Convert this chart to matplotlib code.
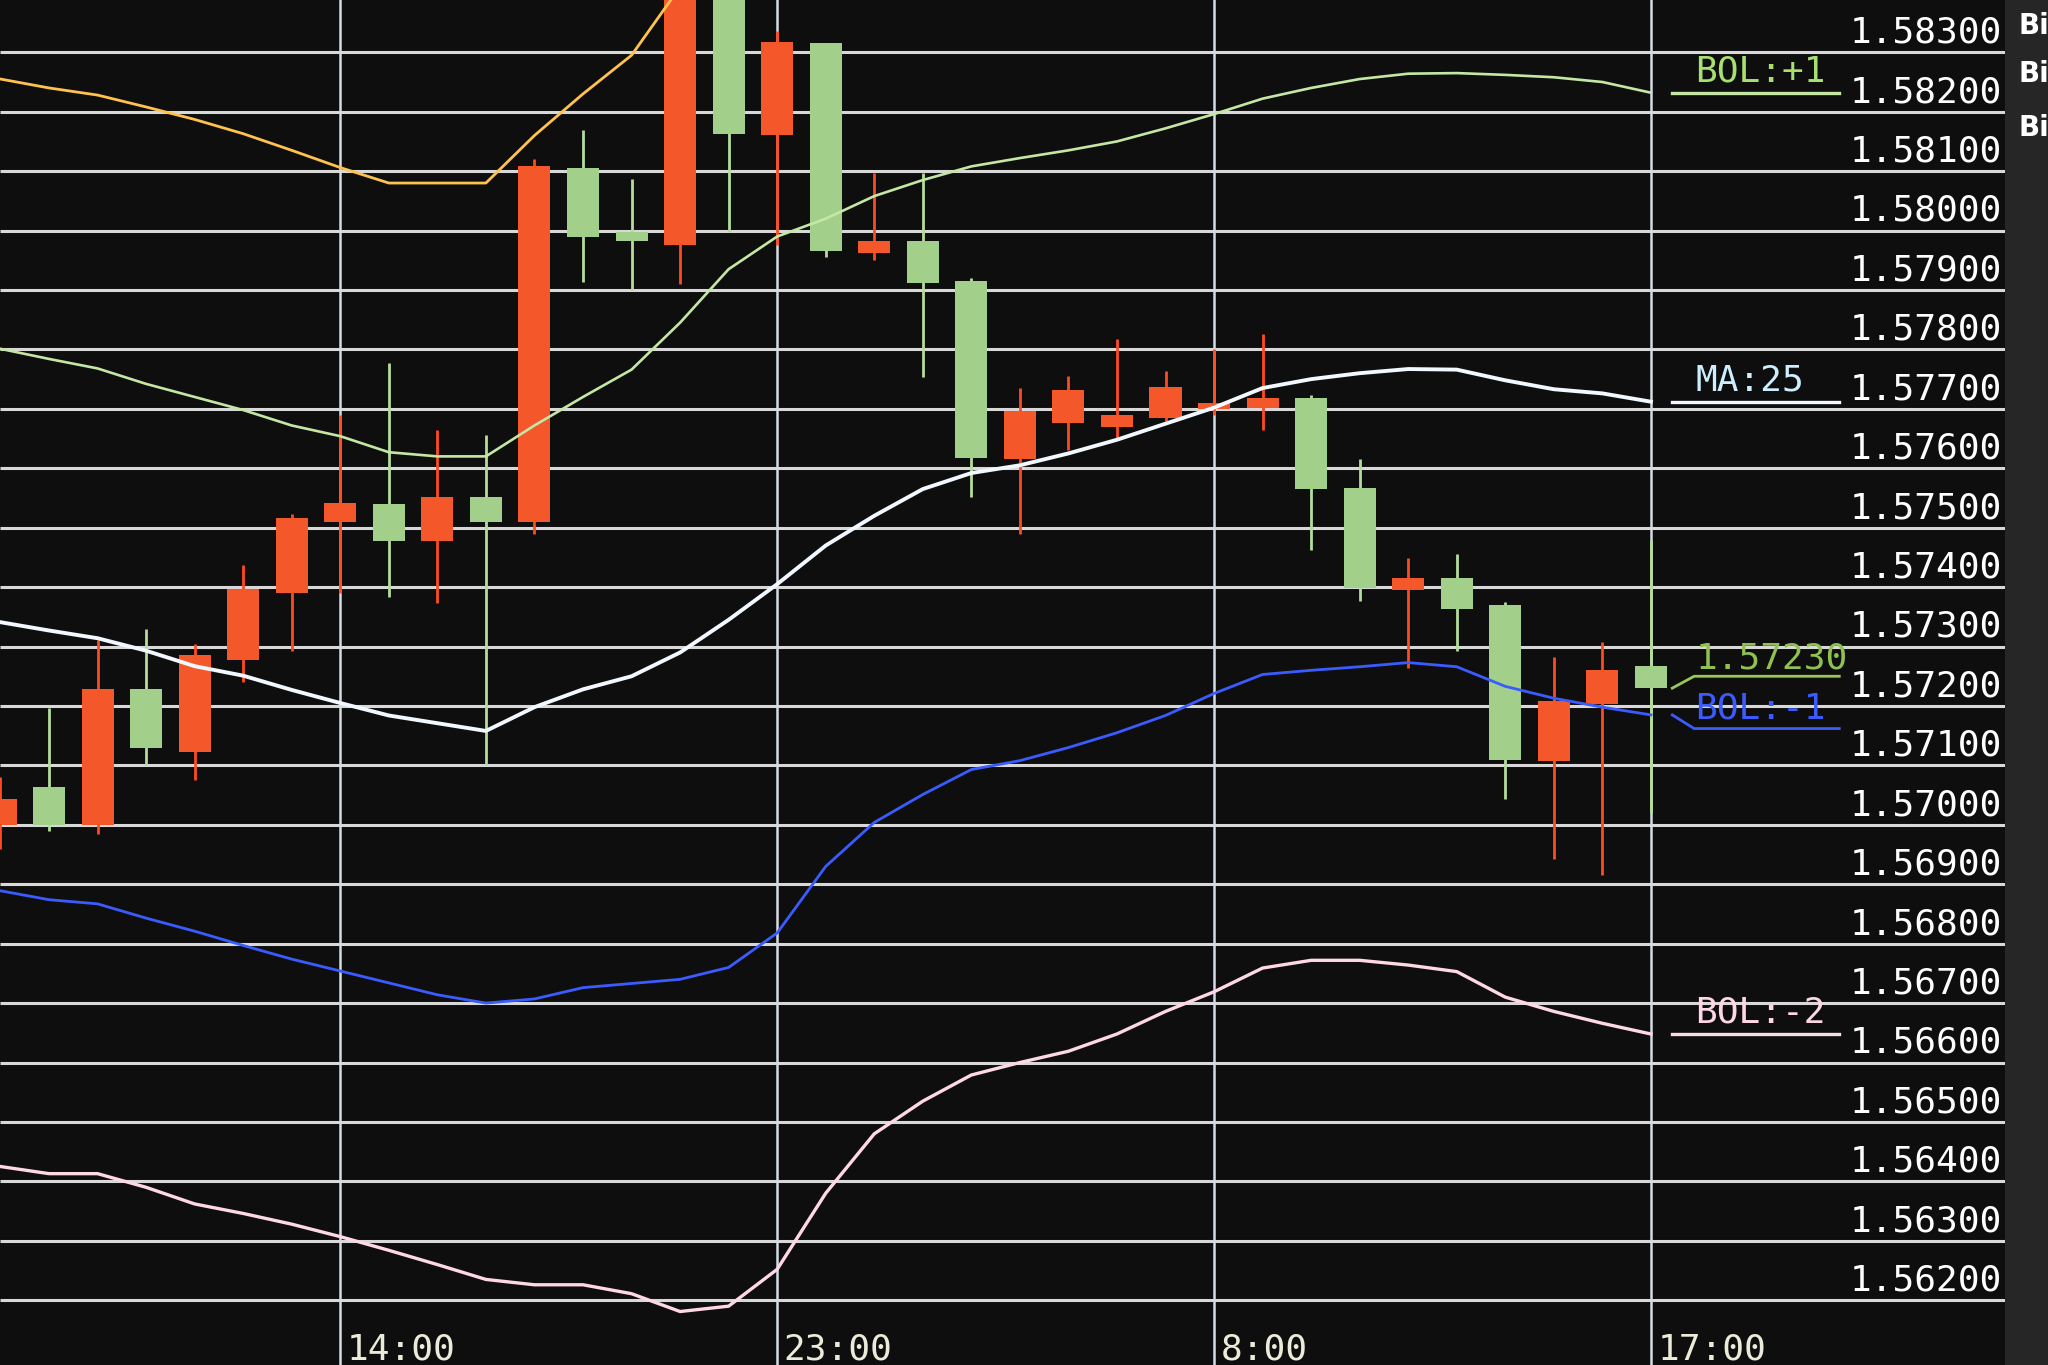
import matplotlib
matplotlib.use("Agg")
import matplotlib.pyplot as plt
from matplotlib.patches import Rectangle

# ---------------- data (hourly candles, index 0 = 7:00) ----------------
hours = list(range(35))
opens = [1.57000, 1.57063, 1.57000, 1.57228, 1.57123, 1.57277, 1.57390, 1.57510,
         1.57540, 1.57477, 1.57552, 1.57510, 1.58106, 1.57998, 1.57976, 1.58420,
         1.58160, 1.58316, 1.57963, 1.57983, 1.57915, 1.57616, 1.57676, 1.57670,
         1.57684, 1.57700, 1.57702, 1.57718, 1.57566, 1.57395, 1.57415, 1.57370,
         1.57108, 1.57203, 1.57268]
highs = [1.57080, 1.57196, 1.57311, 1.57329, 1.57304, 1.57437, 1.57523, 1.57689,
         1.57777, 1.57664, 1.57656, 1.58120, 1.58170, 1.58087, 1.58470, 1.58460,
         1.58335, 1.58316, 1.58097, 1.58097, 1.57920, 1.57735, 1.57755, 1.57817,
         1.57763, 1.57800, 1.57826, 1.57723, 1.57616, 1.57449, 1.57456, 1.57375,
         1.57283, 1.57308, 1.57480]
lows = [1.56960, 1.56990, 1.56984, 1.57100, 1.57076, 1.57240, 1.57293, 1.57390,
        1.57384, 1.57373, 1.57100, 1.57490, 1.57913, 1.57900, 1.57910, 1.57998,
        1.57975, 1.57955, 1.57950, 1.57754, 1.57552, 1.57490, 1.57630, 1.57650,
        1.57680, 1.57690, 1.57664, 1.57463, 1.57377, 1.57264, 1.57293, 1.57044,
        1.56943, 1.56916, 1.57020]
closes = [1.57044, 1.57000, 1.57228, 1.57130, 1.57285, 1.57397, 1.57517, 1.57542,
          1.57477, 1.57552, 1.57510, 1.58108, 1.57990, 1.57982, 1.58430, 1.58162,
          1.58317, 1.57965, 1.57983, 1.57911, 1.57617, 1.57697, 1.57731, 1.57690,
          1.57736, 1.57710, 1.57718, 1.57565, 1.57398, 1.57416, 1.57363, 1.57109,
          1.57209, 1.57261, 1.57230]

bol_p2 = [1.58255, 1.58240, 1.58228, 1.58208, 1.58187, 1.58163, 1.58135, 1.58106,
          1.58080, 1.58080, 1.58080, 1.58160, 1.58230, 1.58295, 1.58410]
bol_p1 = [1.57801, 1.57784, 1.57768, 1.57742, 1.57720, 1.57698, 1.57672, 1.57654,
          1.57627, 1.57620, 1.57620, 1.57672, 1.57720, 1.57766, 1.57845, 1.57935,
          1.57990, 1.58020, 1.58058, 1.58085, 1.58108, 1.58122, 1.58135, 1.58150,
          1.58172, 1.58196, 1.58222, 1.58240, 1.58255, 1.58264, 1.58265, 1.58262,
          1.58258, 1.58250, 1.58232]
ma25 = [1.57341, 1.57327, 1.57314, 1.57293, 1.57267, 1.57251, 1.57227, 1.57205,
        1.57184, 1.57171, 1.57158, 1.57198, 1.57228, 1.57250, 1.57290, 1.57345,
        1.57405, 1.57470, 1.57520, 1.57565, 1.57592, 1.57605, 1.57625, 1.57648,
        1.57675, 1.57702, 1.57735, 1.57750, 1.57760, 1.57767, 1.57766, 1.57748,
        1.57733, 1.57726, 1.57712]
bol_m1 = [1.56889, 1.56874, 1.56867, 1.56843, 1.56821, 1.56797, 1.56774, 1.56754,
          1.56734, 1.56714, 1.56700, 1.56707, 1.56726, 1.56733, 1.56740, 1.56760,
          1.56818, 1.56930, 1.57004, 1.57051, 1.57093, 1.57108, 1.57130, 1.57155,
          1.57184, 1.57221, 1.57253, 1.57260, 1.57266, 1.57273, 1.57266, 1.57233,
          1.57213, 1.57198, 1.57185]
bol_m2 = [1.56425, 1.56413, 1.56413, 1.56390, 1.56362, 1.56346, 1.56328, 1.56307,
          1.56284, 1.56260, 1.56235, 1.56226, 1.56226, 1.56211, 1.56181, 1.56190,
          1.56252, 1.56380, 1.56480, 1.56535, 1.56579, 1.56600, 1.56619, 1.56648,
          1.56686, 1.56719, 1.56759, 1.56772, 1.56772, 1.56764, 1.56753, 1.56710,
          1.56686, 1.56666, 1.56648]

price_ticks = [1.583, 1.582, 1.581, 1.580, 1.579, 1.578, 1.577, 1.576, 1.575, 1.574, 1.573,
               1.572, 1.571, 1.570, 1.569, 1.568, 1.567, 1.566, 1.565, 1.564, 1.563, 1.562]
price_labels = ["1.58300", "1.58200", "1.58100", "1.58000", "1.57900", "1.57800", "1.57700",
                "1.57600", "1.57500", "1.57400", "1.57300", "1.57200", "1.57100", "1.57000",
                "1.56900", "1.56800", "1.56700", "1.56600", "1.56500", "1.56400", "1.56300",
                "1.56200"]
time_pos = [7, 16, 25, 34]
time_labels = ["14:00", "23:00", "8:00", "17:00"]
last_label = "1.57230"
panel_titles = ["Bi", "Bi", "Bi"]

# ---------------- styling ----------------
BG = "#0e0e0e"
GRID = "#d8d8d8"
RED = "#f4572a"
RED_WICK = "#ff4a22"
GREEN = "#a2d08a"
GREEN_WICK = "#b4dc9a"
C_P2 = "#ffc34d"
C_P1 = "#c4e8a4"
C_MA = "#f2f8ff"
C_M1 = "#3a5cff"
C_M2 = "#ffd8e6"
MONO = "DejaVu Sans Mono"

fig = plt.figure(figsize=(20.48, 13.65), dpi=100, facecolor=BG)
ax = fig.add_axes([0, 0, 1, 1])
ax.set_xlim(-0.01, 42.18)
ax.set_ylim(1.56091, 1.58388)
ax.axis("off")

GRID_END = 41.3
# right grey strip
fig.patches.append(Rectangle((0.979, 0), 0.021, 1, transform=fig.transFigure,
                             facecolor="#262626", edgecolor="none", zorder=0))

# grid
ax.hlines(price_ticks, -0.01, GRID_END, colors=GRID, linewidth=2.2, zorder=1)
ax.vlines(time_pos, 1.56, 1.59, colors="#d4dce4", linewidth=1.8, zorder=1)

# candles
for x, o, h, l, c in zip(hours, opens, highs, lows, closes):
    up = c >= o
    body = RED if up else GREEN
    wick = RED_WICK if up else GREEN_WICK
    ax.vlines(x, l, h, colors=wick, linewidth=2.0, zorder=2)
    ax.bar(x, abs(c - o), bottom=min(o, c), width=0.66, color=body,
           edgecolor="none", zorder=3)

# indicator lines
ax.plot(hours[:len(bol_p2)], bol_p2, color=C_P2, lw=2.0, zorder=4)
ax.plot(hours, bol_p1, color=C_P1, lw=1.9, zorder=4)
ax.plot(hours, ma25, color=C_MA, lw=2.8, zorder=4)
ax.plot(hours, bol_m1, color=C_M1, lw=2.0, zorder=4)
ax.plot(hours, bol_m2, color=C_M2, lw=2.4, zorder=4)

# price labels (right side)
for p, s in zip(price_ticks, price_labels):
    ax.text(41.24, p + 0.00033, s, color="white", fontsize=26, family=MONO,
            ha="right", va="center", zorder=6)

# time labels
for x, s in zip(time_pos, time_labels):
    ax.text(x + 0.13, 1.56146, s, color="#ecead8", fontsize=26, family=MONO,
            ha="left", va="top", zorder=6)

# line tags with underline
xl0, xl1, xt = hours[-1] + 0.44, hours[-1] + 3.88, hours[-1] + 0.92
tags = [("BOL:+1", bol_p1[-1], C_P1, "#a8e070"),
        ("MA:25", ma25[-1], C_MA, "#cdeeff"),
        ("BOL:-2", bol_m2[-1], C_M2, "#ffd6e6")]
for s, v, lc, tc in tags:
    ax.plot([xl0, xl1], [v, v], color=lc, lw=2.4, zorder=4)
    ax.text(xt, v + 0.00036, s, color=tc, fontsize=26, family=MONO,
            ha="left", va="center", zorder=6)

# last price tag
lp = closes[-1]
ax.plot([xl0, xl0 + 0.45, xl1], [lp, lp + 0.0002, lp + 0.0002], color="#98c858",
        lw=2.0, zorder=4)
ax.text(xt, lp + 0.0002 + 0.0003, last_label, color="#90c050", fontsize=26,
        family=MONO, ha="left", va="center", zorder=6)

# BOL:-1 tag
vm1 = bol_m1[-1]
ax.plot([xl0, xl0 + 0.45, xl1], [vm1, vm1 - 0.00023, vm1 - 0.00023], color=C_M1,
        lw=2.0, zorder=4)
ax.text(xt, vm1 - 0.00023 + 0.00033, "BOL:-1", color="#3a5cff", fontsize=26,
        family=MONO, ha="left", va="center", zorder=6)

# partially visible panel titles at far right
for yy, s in zip([0.981, 0.946, 0.906], panel_titles):
    fig.text(0.9855, yy, s, color="white", fontsize=20, fontweight="bold",
             family="DejaVu Sans", ha="left", va="center")

fig.savefig("out.png", dpi=100, facecolor=BG)
